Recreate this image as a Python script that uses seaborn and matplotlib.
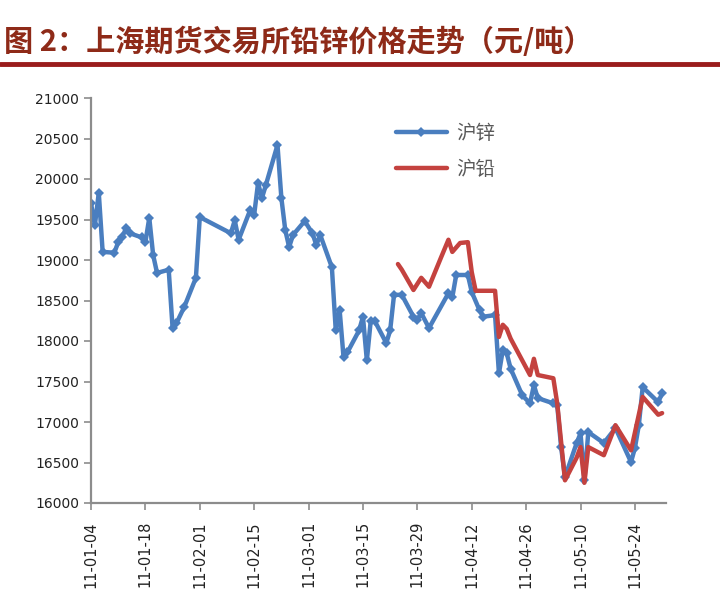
import numpy as np
import pandas as pd
import matplotlib
matplotlib.use('Agg')
import matplotlib.pyplot as plt
from matplotlib.lines import Line2D
import seaborn as sns

# 沪锌 (zinc) daily prices
zn_dates = ['2011-01-04', '2011-01-05', '2011-01-06', '2011-01-07', '2011-01-10', '2011-01-11', '2011-01-12',
            '2011-01-13', '2011-01-14', '2011-01-17', '2011-01-18', '2011-01-19', '2011-01-20', '2011-01-21',
            '2011-01-24', '2011-01-25', '2011-01-26', '2011-01-28', '2011-01-31', '2011-02-01',
            '2011-02-09', '2011-02-10', '2011-02-11', '2011-02-14', '2011-02-15', '2011-02-16', '2011-02-17',
            '2011-02-18', '2011-02-21', '2011-02-22', '2011-02-23', '2011-02-24', '2011-02-25', '2011-02-28',
            '2011-03-02', '2011-03-03', '2011-03-04', '2011-03-07', '2011-03-08', '2011-03-09', '2011-03-10',
            '2011-03-11', '2011-03-14', '2011-03-15', '2011-03-16', '2011-03-17', '2011-03-18', '2011-03-21',
            '2011-03-22', '2011-03-23', '2011-03-25', '2011-03-28', '2011-03-29', '2011-03-30', '2011-04-01',
            '2011-04-06', '2011-04-07', '2011-04-08', '2011-04-11', '2011-04-12', '2011-04-14', '2011-04-15',
            '2011-04-18', '2011-04-19', '2011-04-20', '2011-04-21', '2011-04-22', '2011-04-25', '2011-04-27',
            '2011-04-28', '2011-04-29', '2011-05-03', '2011-05-04', '2011-05-05', '2011-05-06', '2011-05-09',
            '2011-05-10', '2011-05-11', '2011-05-12', '2011-05-16', '2011-05-19', '2011-05-23', '2011-05-24',
            '2011-05-25', '2011-05-26', '2011-05-30', '2011-05-31']
zn_price = [19700, 19430, 19830, 19100, 19090, 19220, 19280,
            19390, 19330, 19280, 19220, 19520, 19060, 18840,
            18880, 18160, 18220, 18420, 18780, 19530,
            19330, 19490, 19250, 19620, 19560, 19950, 19765,
            19925, 20420, 19765, 19370, 19160, 19310, 19480,
            19330, 19185, 19310, 18910, 18130, 18380, 17800,
            17860, 18130, 18300, 17760, 18250, 18250, 17975,
            18130, 18570, 18570, 18300, 18260, 18345, 18160,
            18590, 18540, 18815, 18815, 18605, 18380, 18300,
            18320, 17600, 17890, 17850, 17660, 17330, 17230,
            17455, 17295, 17230, 17210, 16690, 16320, 16740,
            16860, 16280, 16875, 16740, 16925, 16505, 16680,
            16960, 17430, 17245, 17355]

# 沪铅 (lead) daily prices
pb_dates = ['2011-03-24', '2011-03-25', '2011-03-28', '2011-03-30', '2011-04-01', '2011-04-04', '2011-04-06',
            '2011-04-07', '2011-04-09', '2011-04-11', '2011-04-12', '2011-04-13', '2011-04-18', '2011-04-19',
            '2011-04-20', '2011-04-21', '2011-04-22', '2011-04-24', '2011-04-27', '2011-04-28', '2011-04-29',
            '2011-05-03', '2011-05-04', '2011-05-06', '2011-05-09', '2011-05-10', '2011-05-11', '2011-05-12',
            '2011-05-16', '2011-05-19', '2011-05-23', '2011-05-26', '2011-05-30', '2011-05-31']
pb_price = [18950, 18880, 18630, 18780, 18670, 19020, 19250,
            19100, 19210, 19220, 18850, 18620, 18620, 18050,
            18200, 18150, 18030, 17850, 17580, 17780, 17580,
            17540, 17230, 16280, 16560, 16690, 16250, 16690,
            16590, 16960, 16650, 17310, 17090, 17110]

y_ticks = list(range(16000, 21001, 500))
x_ticks = pd.date_range('2011-01-04', periods=11, freq='14D')

sns.set_style('ticks')
plt.rcParams['font.family'] = ['DejaVu Sans', 'Noto Sans CJK SC']

fig = plt.figure(figsize=(7.2, 5.9), dpi=100)
ax = fig.add_axes([91 / 720, 1 - 503 / 590, 575 / 720, 405 / 590])

zn = pd.DataFrame({'date': pd.to_datetime(zn_dates), 'price': zn_price})
pb = pd.DataFrame({'date': pd.to_datetime(pb_dates), 'price': pb_price})

sns.lineplot(data=zn, x='date', y='price', ax=ax, color='#4A7EBF', lw=3.2,
             marker='D', markersize=5.5, markeredgewidth=0, label='沪锌')
sns.lineplot(data=pb, x='date', y='price', ax=ax, color='#C4423F', lw=3.2, label='沪铅')

ax.set_xlim(pd.Timestamp('2011-01-04'), pd.Timestamp('2011-06-01'))
ax.set_ylim(16000, 21000)
ax.set_yticks(y_ticks)
ax.set_yticklabels([str(v) for v in y_ticks], fontsize=10, color='#222222')
ax.set_xticks(x_ticks)
ax.set_xticklabels([t.strftime('%y-%m-%d') for t in x_ticks], rotation=90, fontsize=10.5, color='#222222')
ax.set_xlabel('')
ax.set_ylabel('')
for s in ['top', 'right']:
    ax.spines[s].set_visible(False)
for s in ['left', 'bottom']:
    ax.spines[s].set_color('#8C8C8C')
    ax.spines[s].set_linewidth(1.6)
ax.tick_params(axis='both', direction='out', length=5, width=1.2, color='#8C8C8C')
ax.tick_params(axis='x', pad=8)

ax.legend(loc='upper left', bbox_to_anchor=(0.5, 0.98), frameon=False, fontsize=14,
          labelcolor='#595959', handlelength=2.6, labelspacing=0.9, handletextpad=0.5)

fig.text(0.006, 1 - 42 / 590, '图 2：上海期货交易所铅锌价格走势（元/吨）', fontsize=21, fontweight='bold',
         color='#8E2A18', va='center', ha='left', family=['Noto Sans CJK SC', 'DejaVu Sans'])
fig.add_artist(Line2D([0, 1], [1 - 64 / 590, 1 - 64 / 590], color='#9A1C1C', lw=3.5,
                      transform=fig.transFigure))

fig.savefig('out.png', dpi=100, facecolor='white')
